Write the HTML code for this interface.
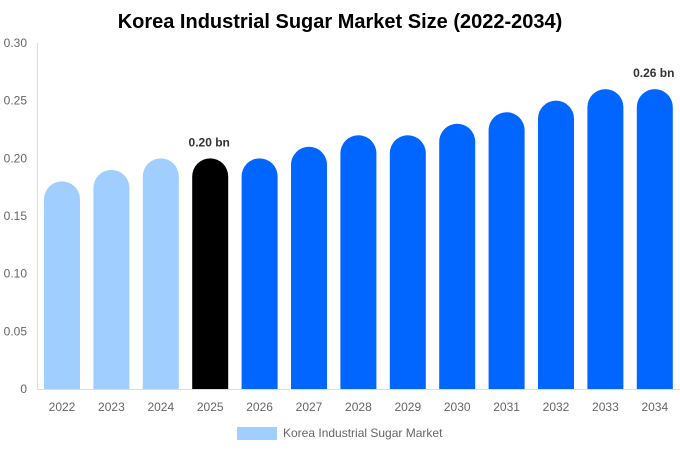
<!DOCTYPE html>
<html><head><meta charset="utf-8"><style>
body{margin:0;background:#fff;width:680px;height:450px;overflow:hidden;font-family:"Liberation Sans",sans-serif}
</style></head><body>
<svg width="680" height="450">
<text x="340" y="28" text-anchor="middle" font-size="20" font-weight="bold" fill="#000">Korea Industrial Sugar Market Size (2022-2034)</text>
<line x1="37.5" y1="43" x2="37.5" y2="389" stroke="#ddd"/>
<line x1="37" y1="389.5" x2="680" y2="389.5" stroke="#ddd"/>
<g id="g"></g>
<rect x="237" y="427" width="40" height="13" fill="#a0cfff"/>
<text x="283" y="437" font-size="12" fill="#666">Korea Industrial Sugar Market</text>
</svg>
<script>
const categories=["2022","2023","2024","2025","2026","2027","2028","2029","2030","2031","2032","2033","2034"];
const values=[0.18,0.19,0.20,0.20,0.20,0.21,0.22,0.22,0.23,0.24,0.25,0.26,0.26];
const yTicks=[0,0.05,0.10,0.15,0.20,0.25,0.30];
const yTickLabels=["0","0.05","0.10","0.15","0.20","0.25","0.30"];
const labels={3:"0.20 bn",12:"0.26 bn"};
const NS="http://www.w3.org/2000/svg",g=document.getElementById('g');
const y=v=>389-v/0.30*346;
const x=i=>62+i*49.4;
function mk(t,a){const e=document.createElementNS(NS,t);for(const k in a)e.setAttribute(k,a[k]);g.appendChild(e);return e;}
yTicks.forEach((v,i)=>{const t=mk('text',{x:27,y:y(v)+4,'text-anchor':'end','font-size':12,fill:'#666'});t.textContent=yTickLabels[i];

});
categories.forEach((c,i)=>{
const w=36,r=18,x0=x(i)-w/2,top=y(values[i]),b=389;
const col=i<3?'#a0cfff':i==3?'#000':'#0066ff';
const p=mk('path',{d:`M${x0},${b}V${top+r}A${r},${r} 0 0 1 ${x0+w},${top+r}V${b}Z`,fill:col});


const t=mk('text',{x:x(i),y:411,'text-anchor':'middle','font-size':12,fill:'#666'});t.textContent=c;


if(labels[i]){const l=mk('text',{x:x(i)-1,y:top-12,'text-anchor':'middle','font-size':12,'font-weight':'bold',fill:'#333'});l.textContent=labels[i];

}
});
</script>
</body></html>
